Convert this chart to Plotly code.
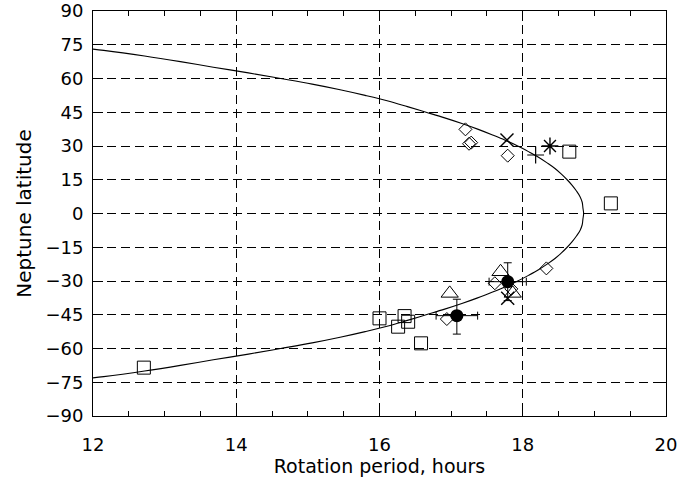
import plotly.graph_objects as go

# Model curve (latitude vs rotation period)
curve_lat = [-75, -72.5, -70, -67.5, -65, -62.5, -60, -57.5, -55, -52.5, -50, -47.5, -45, -42.5, -40,
             -37.5, -35, -32.5, -30, -27.5, -25, -22.5, -20, -17.5, -15, -12.5, -10, -7.5, -5, -2.5, 0,
             2.5, 5, 7.5, 10, 12.5, 15, 17.5, 20, 22.5, 25, 27.5, 30, 32.5, 35, 37.5, 40, 42.5, 45,
             47.5, 50, 52.5, 55, 57.5, 60, 62.5, 65, 67.5, 70, 72.5, 75]
curve_per_half = [18.85, 18.84, 18.83, 18.80, 18.75, 18.69, 18.62, 18.54, 18.45, 18.34, 18.22, 18.08,
                  17.93, 17.76, 17.57, 17.37, 17.15, 16.91, 16.65, 16.39, 16.12, 15.80, 15.45, 15.06,
                  14.62, 14.17, 13.68, 13.22, 12.72, 12.15, 11.45]
curve_per = curve_per_half[::-1] + curve_per_half[1:]

sq_x = [12.71, 16.00, 16.35, 16.26, 16.40, 16.58, 18.65, 19.23]
sq_y = [-68.5, -46.6, -45.6, -50.3, -48.1, -57.7, 27.5, 4.5]

dia_x = [17.20, 17.25, 17.28, 17.79, 18.33, 16.94, 17.61, 17.84]
dia_y = [37.4, 31.0, 31.5, 25.7, -24.4, -46.9, -31.0, -33.5]

tri_x = [16.98, 17.69, 17.86]
tri_y = [-35.5, -25.9, -35.5]

xm_x = [17.78, 17.79]
xm_y = [32.7, -37.7]

ast_x = [18.38]
ast_y = [30.0]

plus_x = [18.18]
plus_y = [26.0]

dot_x = [17.08, 17.79]
dot_y = [-45.4, -30.3]
dot_xerr = [0.29, 0.26]
dot_yerr_up = [7.3, 8.4]
dot_yerr_dn = [8.2, 8.4]

x_ticks = [12, 14, 16, 18, 20]
y_ticks = list(range(-90, 91, 15))

FONT = "DejaVu Sans"
BLACK = "black"

fig = go.Figure()

fig.add_trace(go.Scatter(x=curve_per, y=curve_lat, mode="lines",
                         line=dict(color=BLACK, width=1.1, shape="spline"), showlegend=False))

def mk(x, y, symbol, size, lw=1.0):
    fig.add_trace(go.Scatter(x=x, y=y, mode="markers", showlegend=False,
                             marker=dict(symbol=symbol, size=size, color=BLACK,
                                         line=dict(color=BLACK, width=lw))))

mk(sq_x, sq_y, "square-open", 13)
mk(dia_x, dia_y, "diamond-open", 10)
mk(tri_x, tri_y, "triangle-up-open", 15)
mk(xm_x, xm_y, "x-thin-open", 13, 1.4)
mk(ast_x, ast_y, "asterisk-open", 14, 1.4)
mk(plus_x, plus_y, "cross-thin-open", 12, 1.2)

fig.add_trace(go.Scatter(
    x=dot_x, y=dot_y, mode="markers", showlegend=False,
    marker=dict(symbol="circle", size=13, color=BLACK),
    error_x=dict(type="data", array=dot_xerr, color=BLACK, thickness=1, width=4),
    error_y=dict(type="data", symmetric=False, array=dot_yerr_up, arrayminus=dot_yerr_dn,
                 color=BLACK, thickness=1, width=4)))

fig.update_layout(
    width=678, height=479,
    margin=dict(l=93, r=12, t=11, b=63),
    paper_bgcolor="white", plot_bgcolor="white",
    font=dict(family=FONT, size=18, color=BLACK),
)

fig.update_xaxes(
    range=[12, 20], tickvals=x_ticks, ticktext=[str(v) for v in x_ticks],
    showline=True, linecolor=BLACK, linewidth=1, mirror="ticks",
    ticks="inside", ticklen=10, tickcolor=BLACK, tickwidth=1,
    showgrid=True, gridcolor=BLACK, gridwidth=1, griddash="9px,5px",
    zeroline=False, ticklabelstandoff=12, automargin=False,
    tickfont=dict(size=18),
    minor=dict(dtick=0.5, ticks="inside", ticklen=5, tickcolor=BLACK, showgrid=False),
    title=dict(text="Rotation period, hours", font=dict(size=19), standoff=2),
)
fig.update_yaxes(
    range=[-90, 90], tickvals=y_ticks, ticktext=[str(v).replace("-", "\u2212") for v in y_ticks],
    showline=True, linecolor=BLACK, linewidth=1, mirror="ticks",
    ticks="inside", ticklen=10, tickcolor=BLACK, tickwidth=1,
    showgrid=True, gridcolor=BLACK, gridwidth=1, griddash="9px,5px",
    zeroline=False, ticklabelstandoff=5, automargin=False,
    tickfont=dict(size=18),
    title=dict(text="Neptune latitude", font=dict(size=20), standoff=8),
)

fig.write_html("out.html")
